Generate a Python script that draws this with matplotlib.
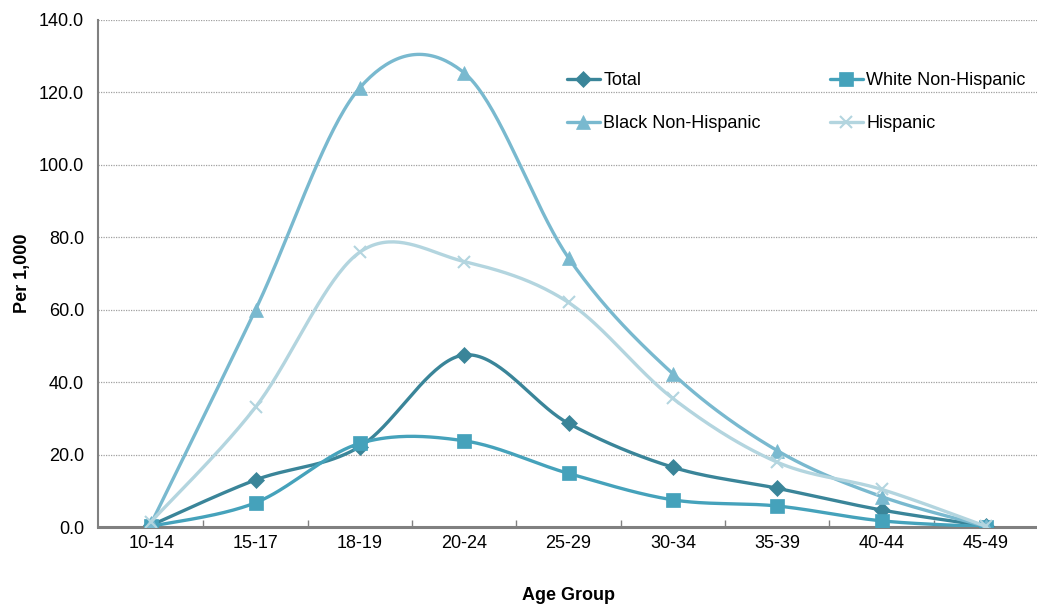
import numpy as np
import matplotlib
matplotlib.use("Agg")
from matplotlib import pyplot as plt

plt.rcParams['font.family'] = ['Liberation Sans', 'DejaVu Sans']

# 年齢層ごとの率（1,000人あたり）
age_groups = ['10-14', '15-17', '18-19', '20-24', '25-29', '30-34', '35-39', '40-44', '45-49']
total = [0.5, 13.0, 22.2, 47.5, 28.6, 16.5, 10.7, 4.7, 0.3]
white_nh = [0.2, 6.7, 23.1, 23.8, 14.8, 7.5, 5.8, 1.7, 0.1]
black_nh = [1.0, 60.0, 121.3, 125.4, 74.3, 42.3, 21.1, 8.4, 0.2]
hispanic = [1.5, 33.1, 75.9, 73.3, 62.0, 35.5, 17.9, 10.4, 0.2]

series = [
    ('Total', total, '#3a8599', 'D', 8),
    ('White Non-Hispanic', white_nh, '#45a2bb', 's', 10),
    ('Black Non-Hispanic', black_nh, '#79b9cf', '^', 10),
    ('Hispanic', hispanic, '#b3d5df', 'x', 8),
]

N = 40  # 区間あたりの分割数
XPX = 104.4  # x方向1区間のピクセル幅
YPX = 3.62   # y方向1単位のピクセル


def smooth(y):
    # Excel風の平滑化（Catmull-Rom型のベジェ）をピクセル比で計算する
    x = np.arange(len(y)) * XPX
    yp = np.asarray(y, dtype=float) * YPX
    P = np.column_stack([x, yp])
    out = []
    n = len(P)
    for i in range(n - 1):
        p0 = P[max(i - 1, 0)]
        p1 = P[i]
        p2 = P[i + 1]
        p3 = P[min(i + 2, n - 1)]
        c1 = p1 + (p2 - p0) / 6.0
        c2 = p2 - (p3 - p1) / 6.0
        t = np.linspace(0, 1, N, endpoint=False)[:, None]
        b = ((1 - t) ** 3) * p1 + 3 * ((1 - t) ** 2) * t * c1 + 3 * (1 - t) * t ** 2 * c2 + t ** 3 * p2
        out.append(b)
    out.append(P[-1][None, :])
    B = np.vstack(out)
    return B[:, 0] / XPX, B[:, 1] / YPX


fig = plt.figure(figsize=(10.37, 6.07), dpi=100)
ax = fig.add_axes([98 / 1037, 80 / 607, 940 / 1037, 507 / 607])

handles = {}
for name, vals, col, mk, ms in series:
    sx, sy = smooth(vals)
    mew = 1.5 if mk == 'x' else 0.5
    h, = ax.plot(sx, sy, color=col, lw=2.4, marker=mk, markersize=ms,
                 markevery=list(range(0, len(sx), N)), markerfacecolor=col,
                 markeredgecolor=col, markeredgewidth=mew, solid_capstyle='round',
                 label=name, zorder=3)
    handles[name] = h

ax.set_xlim(-0.51, len(age_groups) - 0.5)
ax.set_ylim(0, 140)
ax.set_yticks(np.arange(0, 141, 20))
ax.set_yticklabels(['%.1f' % v for v in np.arange(0, 141, 20)], fontsize=13)
ax.set_xticks(range(len(age_groups)))
ax.set_xticklabels(age_groups, fontsize=13)
ax.set_xticks(np.arange(0.5, len(age_groups) - 0.5, 1), minor=True)
ax.tick_params(axis='x', which='major', length=0, pad=6)
ax.tick_params(axis='x', which='minor', length=5, direction='in', color='#808080', width=1)
ax.tick_params(axis='y', length=0, pad=10)

ax.grid(axis='y', linestyle=(0, (1, 1)), color='#a0a0a0', lw=0.9)
ax.set_axisbelow(True)
for s in ['top', 'right']:
    ax.spines[s].set_visible(False)
ax.spines['left'].set_color('#808080')
ax.spines['left'].set_linewidth(1.5)
ax.spines['bottom'].set_color('#808080')
ax.spines['bottom'].set_linewidth(2.2)

ax.set_xlabel('Age Group', fontsize=13, fontweight='bold', labelpad=25)
ax.set_ylabel('Per 1,000', fontsize=13, fontweight='bold', labelpad=6)

order = ['Total', 'Black Non-Hispanic', 'White Non-Hispanic', 'Hispanic']
ax.legend([handles[k] for k in order], order, ncol=2, frameon=False, fontsize=13,
          loc='upper left', bbox_to_anchor=(460 / 940, 0.915), borderpad=0,
          handlelength=1.8, handletextpad=0.2, columnspacing=3.85, labelspacing=1.45)

fig.savefig('out.png', dpi=100)
